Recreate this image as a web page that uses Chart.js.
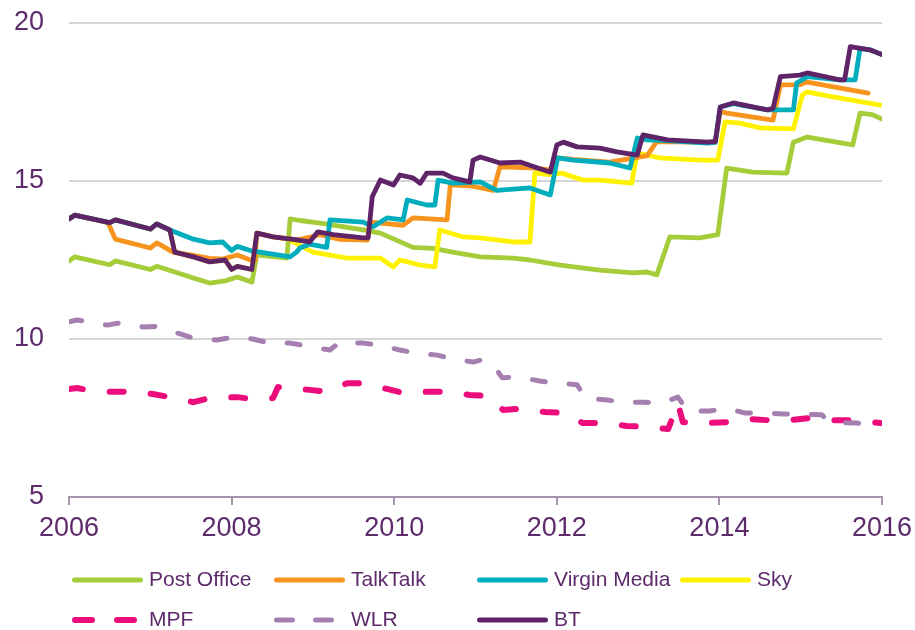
<!DOCTYPE html>
<html>
<head>
<meta charset="utf-8">
<script src="https://cdn.jsdelivr.net/npm/chart.js@4"></script>
<style>
  body { margin: 0; background: #fff; }
</style>
</head>
<body>
<canvas id="priceChart" width="915" height="630"></canvas>
<script>
// [year, price] pairs, one list per line
var postOfficePoints = [[2006.0,12.47],[2006.07,12.6],[2006.5,12.35],[2006.57,12.47],[2007.0,12.2],[2007.08,12.3],[2007.53,11.93],[2007.73,11.77],[2007.92,11.84],[2008.07,11.96],[2008.25,11.8],[2008.31,12.66],[2008.68,12.56],[2008.72,13.8],[2008.84,13.75],[2009.09,13.67],[2009.62,13.45],[2009.83,13.35],[2010.23,12.9],[2010.48,12.87],[2010.72,12.75],[2011.06,12.6],[2011.46,12.56],[2011.67,12.5],[2012.04,12.34],[2012.53,12.18],[2012.94,12.09],[2013.11,12.12],[2013.23,12.03],[2013.39,13.23],[2013.76,13.2],[2013.98,13.3],[2014.09,15.41],[2014.41,15.28],[2014.83,15.25],[2014.91,16.23],[2015.08,16.39],[2015.64,16.14],[2015.73,17.15],[2015.88,17.1],[2016.0,16.96]];
var talkTalkPoints = [[2006.0,13.8],[2006.07,13.92],[2006.48,13.68],[2006.57,13.16],[2007.0,12.88],[2007.08,13.04],[2007.28,12.75],[2007.53,12.65],[2007.73,12.55],[2007.89,12.53],[2008.07,12.66],[2008.23,12.5],[2008.29,12.5],[2008.31,13.35],[2008.51,13.23],[2008.76,13.15],[2008.84,13.15],[2009.09,13.3],[2009.33,13.15],[2009.67,13.13],[2009.7,13.7],[2010.11,13.6],[2010.23,13.83],[2010.65,13.77],[2010.69,14.88],[2010.93,14.85],[2011.22,14.7],[2011.3,15.45],[2011.67,15.42],[2011.92,15.35],[2012.01,15.73],[2012.2,15.68],[2012.65,15.6],[2012.99,15.75],[2013.11,15.8],[2013.23,16.25],[2013.95,16.22],[2014.01,17.2],[2014.09,17.15],[2014.66,16.93],[2014.75,18.04],[2014.99,18.05],[2015.08,18.13],[2015.83,17.78]];
var virginPoints = [[2006.0,13.8],[2006.07,13.92],[2006.5,13.68],[2006.57,13.77],[2007.0,13.48],[2007.08,13.64],[2007.24,13.45],[2007.53,13.16],[2007.73,13.04],[2007.89,13.07],[2008.0,12.8],[2008.07,12.93],[2008.23,12.8],[2008.72,12.6],[2008.8,12.75],[2008.84,12.88],[2008.96,13.0],[2009.17,12.9],[2009.21,13.77],[2009.62,13.7],[2009.74,13.55],[2009.91,13.83],[2010.11,13.77],[2010.16,14.4],[2010.4,14.24],[2010.5,14.24],[2010.54,15.03],[2010.72,14.93],[2011.06,14.97],[2011.26,14.7],[2011.67,14.78],[2011.92,14.56],[2012.01,15.73],[2012.2,15.66],[2012.65,15.57],[2012.9,15.41],[2012.99,16.36],[2013.11,16.3],[2013.36,16.28],[2013.85,16.2],[2013.95,16.22],[2014.01,17.34],[2014.17,17.45],[2014.59,17.25],[2014.91,17.25],[2014.95,18.1],[2015.08,18.3],[2015.48,18.2],[2015.67,18.2],[2015.73,19.2],[2015.85,19.15],[2016.0,19.0]];
var skyPoints = [[2006.0,13.8],[2006.07,13.92],[2006.5,13.68],[2006.57,13.77],[2007.0,13.48],[2007.08,13.64],[2007.24,13.45],[2007.3,12.75],[2007.53,12.6],[2007.73,12.44],[2007.92,12.5],[2008.0,12.2],[2008.07,12.3],[2008.25,12.2],[2008.31,13.35],[2008.51,13.23],[2008.72,13.15],[2008.76,13.07],[2009.0,12.75],[2009.42,12.56],[2009.83,12.56],[2009.99,12.28],[2010.07,12.5],[2010.32,12.34],[2010.5,12.28],[2010.56,13.45],[2010.85,13.23],[2011.06,13.2],[2011.46,13.07],[2011.67,13.07],[2011.73,15.25],[2011.92,15.2],[2012.06,15.25],[2012.32,15.03],[2012.53,15.03],[2012.92,14.93],[2012.99,15.88],[2013.27,15.73],[2013.76,15.66],[2013.98,15.66],[2014.07,16.87],[2014.25,16.83],[2014.5,16.68],[2014.91,16.65],[2015.02,17.72],[2015.08,17.82],[2015.4,17.66],[2015.98,17.4]];
var mpfPoints = [[2006.0,8.42],[2006.1,8.45],[2006.22,8.39],[2006.5,8.33],[2006.71,8.33],[2007.03,8.26],[2007.24,8.16],[2007.53,8.0],[2007.73,8.13],[2008.07,8.16],[2008.26,8.1],[2008.51,8.13],[2008.57,8.48],[2008.68,8.45],[2008.96,8.39],[2009.17,8.33],[2009.42,8.6],[2009.62,8.6],[2009.91,8.42],[2010.11,8.29],[2010.4,8.33],[2010.65,8.33],[2010.93,8.23],[2011.15,8.2],[2011.34,7.75],[2011.58,7.8],[2011.85,7.69],[2012.1,7.66],[2012.32,7.34],[2012.57,7.34],[2012.86,7.25],[2013.11,7.22],[2013.37,7.15],[2013.49,7.97],[2013.55,7.37],[2013.85,7.34],[2014.09,7.37],[2014.34,7.47],[2014.6,7.43],[2014.87,7.43],[2015.11,7.5],[2015.4,7.43],[2015.63,7.43],[2015.98,7.34]];
var wlrPoints = [[2006.0,10.54],[2006.1,10.6],[2006.47,10.44],[2006.6,10.5],[2006.91,10.38],[2007.08,10.4],[2007.33,10.19],[2007.53,10.03],[2007.82,9.97],[2008.02,10.06],[2008.26,10.0],[2008.47,9.87],[2008.72,9.87],[2008.93,9.78],[2009.21,9.65],[2009.33,9.9],[2009.62,9.87],[2009.83,9.8],[2010.07,9.65],[2010.28,9.55],[2010.53,9.49],[2010.72,9.37],[2010.97,9.27],[2011.06,9.33],[2011.2,9.24],[2011.33,8.77],[2011.52,8.8],[2011.79,8.67],[2012.0,8.61],[2012.25,8.55],[2012.35,8.13],[2012.62,8.07],[2012.81,8.0],[2013.08,8.0],[2013.29,7.97],[2013.49,8.16],[2013.61,7.72],[2013.88,7.72],[2014.09,7.8],[2014.32,7.66],[2014.52,7.66],[2014.78,7.63],[2014.99,7.63],[2015.26,7.6],[2015.36,7.37],[2015.69,7.34],[2015.89,7.28],[2016.0,7.28]];
var btPoints = [[2006.0,13.8],[2006.07,13.92],[2006.5,13.68],[2006.57,13.77],[2007.0,13.48],[2007.08,13.64],[2007.24,13.45],[2007.3,12.75],[2007.53,12.6],[2007.73,12.44],[2007.92,12.5],[2008.0,12.2],[2008.07,12.3],[2008.25,12.2],[2008.31,13.35],[2008.51,13.23],[2008.76,13.15],[2008.96,13.07],[2009.06,13.39],[2009.25,13.3],[2009.62,13.2],[2009.68,13.2],[2009.73,14.5],[2009.83,15.03],[2009.99,14.87],[2010.07,15.19],[2010.23,15.1],[2010.32,14.93],[2010.4,15.25],[2010.6,15.25],[2010.72,15.1],[2010.93,14.97],[2010.97,15.66],[2011.06,15.76],[2011.3,15.57],[2011.55,15.6],[2011.92,15.28],[2012.0,16.14],[2012.08,16.23],[2012.25,16.08],[2012.53,16.04],[2012.74,15.92],[2012.99,15.82],[2013.06,16.46],[2013.36,16.3],[2013.85,16.23],[2013.95,16.25],[2014.01,17.34],[2014.17,17.47],[2014.59,17.25],[2014.66,17.3],[2014.75,18.3],[2014.99,18.35],[2015.08,18.42],[2015.48,18.2],[2015.54,18.2],[2015.61,19.25],[2015.85,19.15],[2016.0,19.0]];

var seriesNames = ["Post Office", "TalkTalk", "Virgin Media", "Sky", "MPF", "WLR", "BT"];
var xTicks = [2006, 2008, 2010, 2012, 2014, 2016];
var yTicks = [5, 10, 15, 20];

var textColor = "#5d2a6b";
var fontFamily = "'Liberation Sans', Arial, sans-serif";

function toXY(points) {
  return points.map(function(p) { return {x: p[0], y: p[1]}; });
}

function line(label, points, color, width, dash, order) {
  return {
    label: label,
    data: toXY(points),
    borderColor: color,
    backgroundColor: color,
    borderWidth: width,
    borderDash: dash || [],
    borderCapStyle: "round",
    borderJoinStyle: "round",
    pointRadius: 0,
    tension: 0,
    order: order
  };
}

// lower order = drawn on top, BT sits above everything
var datasets = [
  line(seriesNames[0], postOfficePoints, "#a4cd39", 4.8, null, 5),
  line(seriesNames[1], talkTalkPoints, "#f7941d", 4.8, null, 3),
  line(seriesNames[2], virginPoints, "#00adbd", 4.8, null, 2),
  line(seriesNames[3], skyPoints, "#fff200", 4.8, null, 4),
  line(seriesNames[4], mpfPoints, "#ec0c7b", 6, [14, 27], 7),
  line(seriesNames[5], wlrPoints, "#a67fb1", 5, [13, 24], 6),
  line(seriesNames[6], btPoints, "#5f2468", 4.8, null, 1)
];

// legend in a fixed 4 column grid like the original
var legendGrid = {
  id: "legendGrid",
  afterDraw: function(chart) {
    var ctx = chart.ctx;
    var cols = [72, 274, 477, 680];
    var rows = [580, 620];
    ctx.save();
    chart.data.datasets.forEach(function(ds, i) {
      var x = cols[i % 4];
      var y = rows[Math.floor(i / 4)];
      ctx.beginPath();
      ctx.lineCap = "round";
      ctx.strokeStyle = ds.borderColor;
      ctx.lineWidth = ds.borderDash.length ? ds.borderWidth : 5;
      if (i === 4) ctx.setLineDash([17, 25]);
      else if (i === 5) ctx.setLineDash([16, 23]);
      else ctx.setLineDash([]);
      var half = ctx.lineWidth / 2;
      ctx.moveTo(x + half, y);
      ctx.lineTo(x + 71 - half, y);
      ctx.stroke();
      ctx.setLineDash([]);
      ctx.fillStyle = textColor;
      ctx.font = "21px " + fontFamily;
      ctx.textBaseline = "middle";
      ctx.textAlign = "left";
      ctx.fillText(ds.label, x + 77, y);
    });
    ctx.restore();
  }
};

var ctx = document.getElementById("priceChart").getContext("2d");
var priceChart = new Chart(ctx, {
  type: "line",
  data: { datasets: datasets },
  options: {
    responsive: false,
    animation: false,
    layout: { padding: { top: 23, right: 33, left: 0, bottom: 0 } },
    plugins: {
      legend: { display: false },
      tooltip: { enabled: false }
    },
    scales: {
      x: {
        type: "linear",
        min: 2006,
        max: 2016,
        afterBuildTicks: function(scale) {
          scale.ticks = xTicks.map(function(v) { return {value: v}; });
        },
        afterFit: function(scale) {
          scale.height = 133;
          scale.paddingLeft = 0;
          scale.paddingRight = 0;
        },
        ticks: {
          color: textColor,
          font: { family: fontFamily, size: 27 },
          padding: 7,
          maxRotation: 0,
          callback: function(v) { return String(v); }
        },
        grid: {
          drawOnChartArea: false,
          drawTicks: true,
          tickLength: 8,
          color: "#a795ae",
          lineWidth: 2
        },
        border: { display: true, color: "#a795ae", width: 2 }
      },
      y: {
        min: 5,
        max: 20,
        afterBuildTicks: function(scale) {
          scale.ticks = yTicks.map(function(v) { return {value: v}; });
        },
        afterFit: function(scale) {
          scale.width = 69;
          scale.paddingTop = 0;
          scale.paddingBottom = 0;
        },
        ticks: {
          color: textColor,
          font: { family: fontFamily, size: 27 },
          padding: 25,
          callback: function(v) { return String(v); }
        },
        grid: {
          drawTicks: false,
          lineWidth: 2,
          color: function(c) { return c.tick && c.tick.value === 5 ? "rgba(0,0,0,0)" : "#d6d6d6"; }
        },
        border: { display: false }
      }
    }
  },
  plugins: [legendGrid]
});
</script>
</body>
</html>
